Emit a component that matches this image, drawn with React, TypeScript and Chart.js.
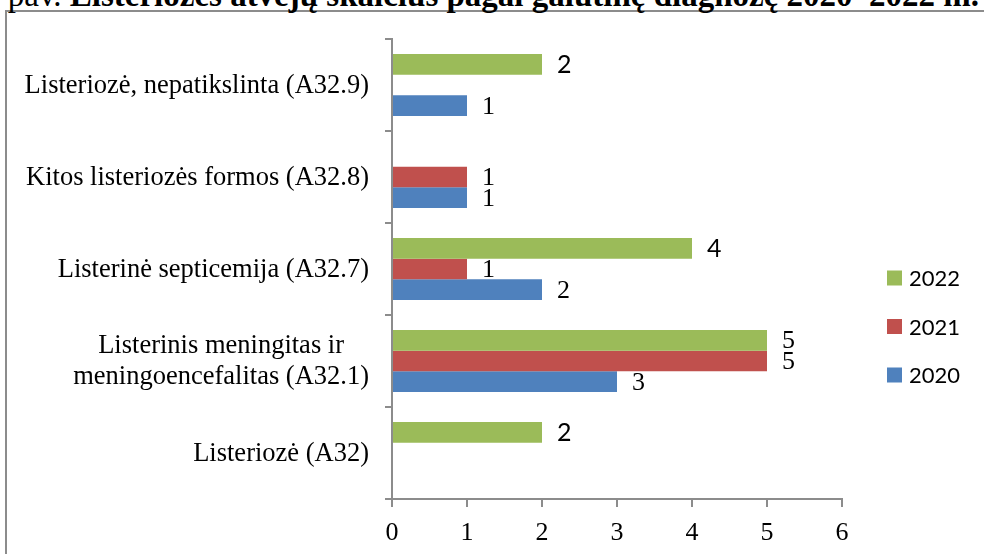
import React, { useEffect, useRef } from "react";
import { Chart, registerables } from "chart.js";

Chart.register(...registerables);

const categories: (string | string[])[] = [
  "Listeriozė, nepatikslinta (A32.9)",
  "Kitos listeriozės formos (A32.8)",
  "Listerinė septicemija (A32.7)",
  ["Listerinis meningitas ir", "meningoencefalitas (A32.1)"],
  "Listeriozė (A32)",
];
const seriesNames = ["2022", "2021", "2020"];
const values2022 = [2, null, 4, 5, 2];
const values2021 = [null, 1, 1, 5, null];
const values2020 = [1, 1, 2, 3, null];
const xMin = 0;
const xMax = 6;
const xStep = 1;
const titlePrefix = "6 pav. ";
const titleMain = "Listeriozės atvejų skaičius pagal galutinę diagnozę 2020–2022 m.";

const COLORS = ["#9BBB59", "#C0504D", "#4F81BD"];
const AXIS = "#8c8c8c";
const SERIF = '"Liberation Serif", "Times New Roman", serif';
const SANS = 'Lato, "Open Sans", sans-serif';
// which value labels use the sans font (by dataset index -> category indexes)
const sansLabelIdx: number[][] = [[0, 2, 4], [], []];

const valueLabels = {
  id: "valueLabels",
  afterDatasetsDraw(chart: any) {
    const ctx = chart.ctx;
    chart.data.datasets.forEach((ds: any, di: number) => {
      const meta = chart.getDatasetMeta(di);
      meta.data.forEach((el: any, i: number) => {
        const v = ds.data[i];
        if (v == null) return;
        const sans = sansLabelIdx[di].includes(i);
        ctx.save();
        ctx.font = sans ? `25px ${SANS}` : `26px ${SERIF}`;
        ctx.fillStyle = "#000";
        ctx.textAlign = "left";
        ctx.textBaseline = "middle";
        ctx.fillText(String(v), el.x + 15, el.y + 1);
        ctx.restore();
      });
    });
  },
};

const yLabels = {
  id: "yLabels",
  afterDraw(chart: any) {
    const ctx = chart.ctx;
    const y = chart.scales.y;
    ctx.save();
    ctx.font = `26.5px ${SERIF}`;
    ctx.fillStyle = "#000";
    ctx.textBaseline = "middle";
    ctx.textAlign = "center";
    const right = y.right - 23;
    const lh = 31;
    chart.data.labels.forEach((lab: any, i: number) => {
      const lines: string[] = Array.isArray(lab) ? lab : [lab];
      const w = Math.max(...lines.map((l) => ctx.measureText(l).width));
      const cx = right - w / 2;
      const cy = y.getPixelForValue(i);
      const top = cy - ((lines.length - 1) * lh) / 2;
      lines.forEach((l, k) => ctx.fillText(l, cx, top + k * lh + 1));
    });
    ctx.restore();
  },
};

const customLegend = {
  id: "customLegend",
  afterDraw(chart: any) {
    const ctx = chart.ctx;
    ctx.save();
    ctx.font = `22px ${SANS}`;
    ctx.textBaseline = "middle";
    ctx.textAlign = "left";
    chart.data.datasets.forEach((ds: any, i: number) => {
      const cy = 278 + i * 48.5;
      ctx.fillStyle = ds.backgroundColor;
      ctx.fillRect(887, cy - 7.5, 15, 15);
      ctx.fillStyle = "#000";
      ctx.fillText(ds.label, 909, cy + 1);
    });
    ctx.restore();
  },
};

export default function App() {
  const ref = useRef<HTMLCanvasElement>(null);
  useEffect(() => {
    if (!ref.current) return;
    const series = [values2022, values2021, values2020];
    const chart = new Chart(ref.current, {
      type: "bar",
      data: {
        labels: categories as any,
        datasets: series.map((d, i) => ({
          label: seriesNames[i],
          data: d as any,
          backgroundColor: COLORS[i],
          borderWidth: 0,
          barPercentage: 1,
          categoryPercentage: 0.675,
        })),
      },
      options: {
        indexAxis: "y",
        animation: false,
        responsive: false,
        devicePixelRatio: 1,
        layout: { padding: { left: 0, right: 142, top: 39, bottom: 0 } },
        plugins: {
          legend: { display: false },
          title: { display: false },
          tooltip: { enabled: false },
        },
        scales: {
          x: {
            type: "linear",
            min: xMin,
            max: xMax,
            ticks: {
              stepSize: xStep,
              color: "#000",
              font: { family: SERIF, size: 26 },
              padding: 11,
            },
            grid: {
              drawOnChartArea: false,
              drawTicks: true,
              tickLength: 8,
              color: AXIS,
              lineWidth: 2,
            },
            border: { color: AXIS, width: 2 },
            afterFit: (s: any) => {
              s.height = 55;
            },
          },
          y: {
            type: "category",
            offset: true,
            ticks: { display: false },
            grid: {
              offset: true,
              drawOnChartArea: false,
              drawTicks: true,
              tickLength: 7,
              color: AXIS,
              lineWidth: 2,
            },
            border: { color: AXIS, width: 2 },
            afterFit: (s: any) => {
              s.width = 392;
            },
          },
        },
      },
      plugins: [valueLabels, yLabels, customLegend],
    });
    return () => chart.destroy();
  }, []);

  return (
    <div
      style={{
        position: "fixed",
        left: 0,
        top: 0,
        width: 984,
        height: 554,
        overflow: "hidden",
        background: "#fff",
      }}
    >
      <div
        style={{
          position: "absolute",
          left: 5,
          top: 10,
          width: 1100,
          height: 700,
          border: `2px solid ${AXIS}`,
          boxSizing: "border-box",
        }}
      />
      <div
        style={{
          position: "absolute",
          left: -17,
          top: -21,
          fontFamily: SERIF,
          fontSize: 33,
          lineHeight: "33px",
          whiteSpace: "nowrap",
          color: "#000",
        }}
      >
        <span>{titlePrefix}</span>
        <b>{titleMain}</b>
      </div>
      <canvas
        ref={ref}
        width={984}
        height={554}
        style={{ position: "absolute", left: 0, top: 0, display: "block" }}
      />
    </div>
  );
}
